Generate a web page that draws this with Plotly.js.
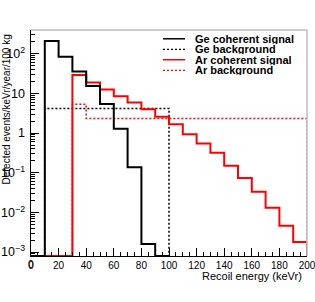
<!DOCTYPE html>
<html>
<head>
<meta charset="utf-8">
<script src="https://cdn.plot.ly/plotly-3.0.1.min.js"></script>
<style>html,body{margin:0;padding:0;background:#fff;}#chart{width:315px;height:302px;}</style>
</head>
<body>
<div id="chart"></div>
<script>
// Bin edges (keV), 10 keV bins
const geEdges = [0,10,20,30,40,50,60,70,80,90,100];
const arEdges = [0,10,20,30,40,50,60,70,80,90,100,110,120,130,140,150,160,170,180,190,200];

// Values per bin (events/keVr/year/100 kg); 0 = empty bin
const geSignal = [0,211,84,36,15.5,5.4,1.28,0.137,0.0016,0];
const geBackground = [0,4.2,4.2,4.2,4.2,4.2,4.2,4.2,4.2,4.2];
const arSignal = [0,0,0,29,18.9,12.6,8.5,5.9,4.0,2.57,1.66,0.93,0.55,0.32,0.15,0.074,0.033,0.013,0.0046,0.0018];
const arBackground = [0,0,0,5.3,2.35,2.35,2.35,2.35,2.35,2.35,2.35,2.35,2.35,2.35,2.35,2.35,2.35,2.35,2.35,2.35];

const seriesNames = ['Ge coherent signal','Ge background','Ar coherent signal','Ar background'];
const tickVals = [0,20,40,60,80,100,120,140,160,180,200];

const yLogMin = -3.1, yLogMax = 2.6;
const floorVal = Math.pow(10, yLogMin);

function stepTrace(edges, vals, name, color, dash, width) {
  const xs = [edges[0]], ys = [floorVal];
  for (let i = 0; i < vals.length; i++) {
    xs.push(edges[i]);
    ys.push(vals[i] > 0 ? vals[i] : floorVal);
  }
  const last = vals[vals.length-1] > 0 ? vals[vals.length-1] : floorVal;
  xs.push(edges[edges.length-1]); ys.push(last);
  xs.push(edges[edges.length-1]); ys.push(floorVal);
  return {x: xs, y: ys, name: name, type: 'scatter', mode: 'lines',
    line: {shape: 'hv', color: color, dash: dash, width: width}, hoverinfo: 'skip', showlegend: false};
}

const colors = ['#000000','#000000','#ff0000','#ff0000'];
const dashes = ['solid','2px,2px','solid','2px,2px'];
const widths = [2,1.5,2,1.5];

const data = [
  stepTrace(geEdges, geBackground, seriesNames[1], colors[1], dashes[1], widths[1]),
  stepTrace(arEdges, arBackground, seriesNames[3], colors[3], dashes[3], widths[3]),
  stepTrace(arEdges, arSignal, seriesNames[2], colors[2], dashes[2], widths[2]),
  stepTrace(geEdges, geSignal, seriesNames[0], colors[0], dashes[0], widths[0]),
  {x: [], y: [], xaxis: 'x2', type: 'scatter', mode: 'lines', showlegend: false, hoverinfo: 'skip'}
];

const W = 276, H = 226.5;
const px2x = p => (p - 31) / W;
const py2y = p => (256 - p) / H;

const legendRows = [38.3, 49, 59.3, 70];
const annotations = [];
const shapes = [];
seriesNames.forEach((n, i) => {
  annotations.push({xref:'paper', yref:'paper', x: px2x(194), y: py2y(legendRows[i]), xanchor:'left', yanchor:'middle',
    height: 10, valign:'middle', borderpad:0,
    text: '<b>' + n + '</b>', showarrow:false, font:{family:'Liberation Sans, Arial', size:11, color:'#000'}});
  shapes.push({type:'line', xref:'paper', yref:'paper', x0:px2x(163), x1:px2x(185), y0:py2y(legendRows[i]), y1:py2y(legendRows[i]),
    line:{color: colors[i], width: widths[i] === 2 ? 1.5 : 1.2, dash: dashes[i]}});
});
// first x tick label (Plotly drops it at the axis corner)
annotations.push({xref:'x', yref:'paper', x:tickVals[0], y:py2y(264.5), xanchor:'center', yanchor:'middle',
  text:String(tickVals[0]), showarrow:false, borderpad:0, font:{family:'Liberation Sans, Arial', size:10, color:'#000'}});
annotations.push({xref:'paper', yref:'paper', x:px2x(304), y:py2y(276.5), xanchor:'right', yanchor:'middle',
  text:'Recoil energy (keVr)', showarrow:false, font:{family:'Liberation Sans, Arial', size:11, color:'#000'}});
annotations.push({xref:'paper', yref:'paper', x:px2x(6), y:py2y(32), xanchor:'center', yanchor:'top', textangle:-90,
  text:'Detected events/keVr/year/100 kg', showarrow:false, font:{family:'Liberation Sans, Arial', size:10, color:'#000'}});
// frame top and right
shapes.push({type:'line', xref:'paper', yref:'paper', x0:0, x1:1, y0:1, y1:1, line:{color:'#bdbdbd', width:1.5}});
shapes.push({type:'line', xref:'paper', yref:'paper', x0:1, x1:1, y0:0, y1:1, line:{color:'#bdbdbd', width:1.5}});

const layout = {
  width: 315, height: 302,
  margin: {l:31, r:8, t:29.5, b:46},
  paper_bgcolor:'#fff', plot_bgcolor:'#fff',
  showlegend: false,
  font: {family:'Liberation Sans, Arial', size:10, color:'#000'},
  xaxis: {range:[0,200], tickmode:'array', tickvals: tickVals, ticktext: tickVals.map(String), ticks:'inside', ticklen:8, tickwidth:1, tickcolor:'#000',
    showline:true, linecolor:'#000', linewidth:1, showgrid:false, zeroline:false, ticklabeloverflow:'allow',
    tickfont:{size:10}},
  xaxis2: {overlaying:'x', anchor:'y', side:'bottom', range:[0,200], tickmode:'linear', tick0:0, dtick:5, ticks:'inside', ticklen:4, tickwidth:1, tickcolor:'#000',
    showticklabels:false, showline:false, showgrid:false, zeroline:false},
  yaxis: {type:'log', range:[yLogMin, yLogMax], dtick:1, exponentformat:'power', ticks:'inside', ticklen:8, tickwidth:1, tickcolor:'#000',
    showline:true, linecolor:'#000', linewidth:1, showgrid:false, zeroline:false, ticklabelstandoff:3, ticklabeloverflow:'allow',
    minor:{dtick:'D1', ticklen:4, ticks:'inside', tickcolor:'#000', showgrid:false},
    tickfont:{size:10}},
  annotations: annotations,
  shapes: shapes
};

Plotly.newPlot('chart', data, layout, {staticPlot:true, displayModeBar:false});
</script>
</body>
</html>
